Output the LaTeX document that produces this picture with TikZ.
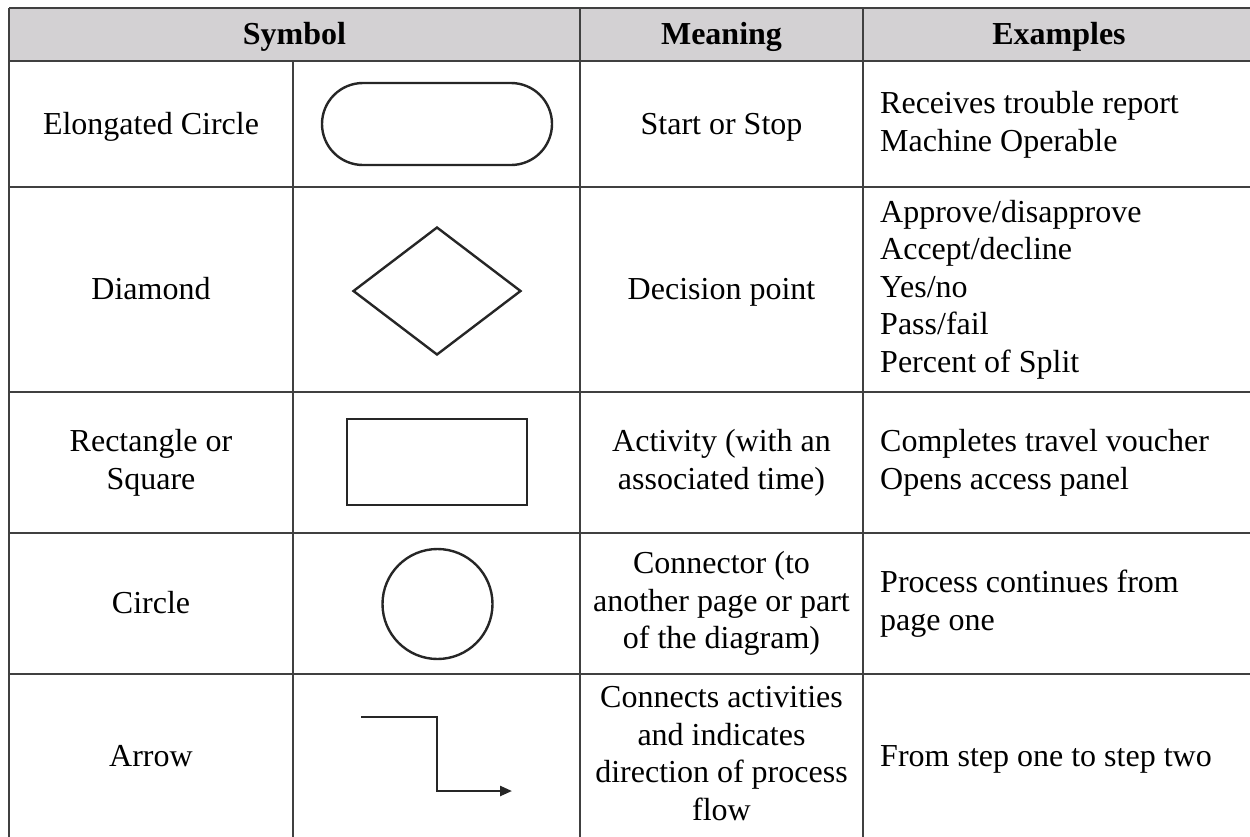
\documentclass[tikz,border=0pt]{standalone}
\usepackage{fontspec}
\setmainfont{Liberation Serif}
\usetikzlibrary{shapes.geometric,shapes.misc,arrows.meta}
\definecolor{headgray}{RGB}{211,209,211}
\tikzset{
  txt/.style={font=\fontsize{32}{37.5}\selectfont,inner sep=0pt,align=center,
    execute at begin node=\strut,execute at end node=\strut},
  head/.style={txt,font=\fontsize{32}{37.5}\selectfont\bfseries},
  exmp/.style={txt,align=left,anchor=west},
  sym/.style={draw=black!85,line width=2.4pt,inner sep=0pt},
  gridline/.style={draw=black!75,line width=2pt},
  flow/.style={draw=black!85,line width=2.4pt,-{Triangle[length=12pt,width=10pt]}}
}
\begin{document}
\begin{tikzpicture}[x=1pt,y=-1pt]
  \useasboundingbox (0,0) rectangle (1250,836);
  % table
  \fill [headgray] (9,8) rectangle (1262,61);
  \foreach \y in {8,61,187,392,533,674}
    \draw [gridline] (9,\y) -- (1262,\y);
  \foreach \x in {9,580,863}
    \draw [gridline] (\x,8) -- (\x,850);
  \draw [gridline] (293,61) -- (293,850);
  % header
  \node [head] (hsym) at (294.5,37) {Symbol};
  \node [head] (hmean) at (721.5,37) {Meaning};
  \node [head] (hexmp) at (1059,37) {Examples};
  % names
  \node [txt] (n1) at (151,127) {Elongated Circle};
  \node [txt] (n2) at (151,292) {Diamond};
  \node [txt] (n3) at (151,465) {Rectangle or\\Square};
  \node [txt] (n4) at (151,606) {Circle};
  \node [txt] (n5) at (151,759) {Arrow};
  % symbols
  \node [sym,rounded rectangle,minimum width=230pt,minimum height=82pt] (s1) at (437,124) {};
  \node [sym,diamond,minimum width=168pt,minimum height=128pt] (s2) at (437,291) {};
  \node [sym,rectangle,minimum width=180pt,minimum height=86pt] (s3) at (437,462) {};
  \node [sym,circle,minimum size=110pt] (s4) at (437.5,604) {};
  \coordinate (arrin) at (361,717);
  \coordinate (arrbend) at (437,791);
  \coordinate (arrout) at (512,791);
  \draw [flow] (arrin) -| (arrbend) -- (arrout);
  % meanings
  \node [txt] (m1) at (721.5,127) {Start or Stop};
  \node [txt] (m2) at (721.5,292) {Decision point};
  \node [txt] (m3) at (721.5,465) {Activity (with an\\associated time)};
  \node [txt] (m4) at (721.5,606) {Connector (to\\another page or part\\of the diagram)};
  \node [txt] (m5) at (721.5,759) {Connects activities\\and indicates\\direction of process\\flow};
  % examples
  \node [exmp] (e1) at (880,127) {Receives trouble report\\Machine Operable};
  \node [exmp] (e2) at (880,292) {Approve/disapprove\\Accept/decline\\Yes/no\\Pass/fail\\Percent of Split};
  \node [exmp] (e3) at (880,465) {Completes travel voucher\\Opens access panel};
  \node [exmp] (e4) at (880,606) {Process continues from\\page one};
  \node [exmp] (e5) at (880,759) {From step one to step two};
\end{tikzpicture}
\end{document}
